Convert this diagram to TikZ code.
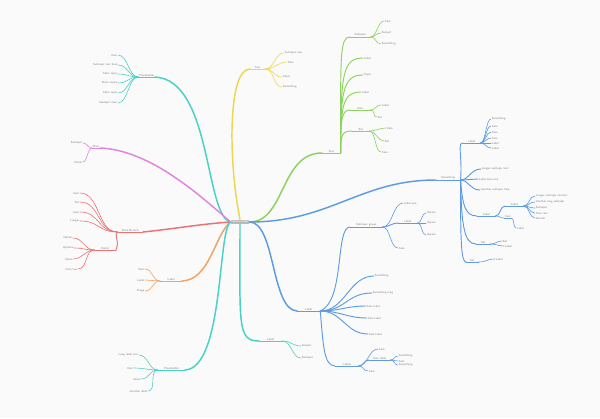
\documentclass[tikz,border=0pt]{standalone}
\usepackage{xcolor}
\definecolor{bg}{HTML}{FAFAFA}
\definecolor{tl}{HTML}{46D2C4}
\definecolor{pk}{HTML}{E283E0}
\definecolor{rd}{HTML}{EE7070}
\definecolor{og}{HTML}{F4A261}
\definecolor{yl}{HTML}{EDD650}
\definecolor{gr}{HTML}{8CD25E}
\definecolor{bl}{HTML}{5E9BE2}
\definecolor{tc}{HTML}{808080}
\newcommand\tf{\fontsize{2.2}{2.6}\selectfont\sffamily}
\tikzset{
 lab/.style={font=\tf, text=tc, inner xsep=0.4pt, inner ysep=0.35pt},
 L/.style={lab, anchor=south east},
 R/.style={lab, anchor=south west},
 mb/.style={line width=1.1pt, line cap=round},
 sb/.style={line width=0.7pt, line cap=round},
 lf/.style={line width=0.45pt, line cap=round},
}
\newcommand\Ln[5][]{\node[L,#1] (#2) at (#4) {#5}; \draw[#3] (#2.south west) -- (#2.south east);}
\newcommand\Rn[5][]{\node[R,#1] (#2) at (#4) {#5}; \draw[#3] (#2.south west) -- (#2.south east);}
\newcommand\Lf[3]{\node[lab,anchor=east] (#1) at (#2) {#3};}
\newcommand\Rf[3]{\node[lab,anchor=west] (#1) at (#2) {#3};}
\newcommand\cv[5]{\draw[#1] (#2) .. controls +(#4) and +(#5) .. (#3);}
\begin{document}
\begin{tikzpicture}[x=0.75pt,y=-0.75pt]
\useasboundingbox (0,0) rectangle (600,418);
\fill[bg] (0,0) rectangle (600,418);
\node[fill=gray!55, text=white, font=\tf, minimum width=13.5pt, minimum height=3.4pt, inner sep=0.3pt] (root) at (240,222) {Central Topic};
% teal top
\Ln{TA}{tl,sb}{155,77}{Placeholder}
\cv{tl,mb}{root.west}{TA.south east}{-26,-7}{57,3}
\foreach \nm/\y/\tx in {1/55/Item,2/65/Subtopic text here,3/74/Main topic,4/83/Main topics,5/93/Main topic,6/103/Subtopic item}{
 \Lf{TA\nm}{118,\y}{\tx}
 \cv{tl,lf}{TA.south west}{TA\nm.east}{-10,0}{10,0}}
% pink
\Ln{PA}{pk,sb}{100,148}{Main}
\cv{pk,mb}{root.west}{PA.south east}{-31,-27}{50,2}
\foreach \nm/\y/\tx in {1/143/Subtopic,2/162/Detail}{
 \Lf{PA\nm}{83,\y}{\tx}
 \cv{pk,lf}{PA.south west}{PA\nm.east}{-4,0}{4,0}}
% red
\Ln[minimum width=18.75pt]{RA}{rd,sb}{143,232}{Main Branch}
\cv{rd,mb}{root.west}{RA.south east}{-30,2}{30,-3}
\foreach \nm/\y/\tx in {1/193/Item,2/202/Set,3/212/Item,4/221/Longer}{
 \Lf{RA\nm}{80,\y}{\tx}
 \cv{rd,lf}{RA.south west}{RA\nm.east}{-20,0}{20,0}}
\Ln[minimum width=15.75pt]{RB}{rd,sb}{116,250}{Detail}
\cv{rd,sb}{RA.south west}{RB.south east}{-4,2}{4,-9}
\foreach \nm/\xx/\y/\tx in {1/73/238/Option,2/74/248/Options,3/73/259/Items,4/78/269/Item two}{
 \Lf{RB\nm}{\xx,\y}{\tx}
 \cv{rd,lf}{RB.south west}{RB\nm.east}{-10,0}{10,0}}
% orange
\Ln[minimum width=16pt]{OA}{og,sb}{182,281}{Label}
\cv{og,mb}{root.west}{OA.south east}{-16,13}{28,-1}
\foreach \nm/\y/\tx in {1/269/Item,2/280/Label,3/291/Stage}{
 \Lf{OA\nm}{145,\y}{\tx}
 \cv{og,lf}{OA.south west}{OA\nm.east}{-8,0}{8,0}}
% teal bottom
\Ln[minimum width=20pt]{TB}{tl,sb}{185,370}{Placeholder}
\cv{tl,mb}{root.west}{TB.south east}{-13,8}{39,-2}
\foreach \nm/\xx/\y/\tx in {1/139/355/Long label text,2/134/368/Item,3/141/379/Items,4/148/391/Another label}{
 \Lf{TB\nm}{\xx,\y}{\tx}
 \cv{tl,lf}{TB.south west}{TB\nm.east}{-9,0}{9,0}}
% yellow
\Rn[minimum width=11pt]{YA}{yl,sb}{250,69}{Text}
\cv{yl,mb}{root.north}{YA.south west}{-12,-60}{-22,0}
\foreach \nm/\xx/\y/\tx in {1/284/53/Subtopic one,2/287/62/Item,3/282/77/Topic,4/282/87/Something}{
 \Rf{YA\nm}{\xx,\y}{\tx}
 \cv{yl,lf}{YA.south east}{YA\nm.west}{9,0}{-9,0}}
% green
\Rn[minimum width=13.5pt]{GA}{gr,sb}{322,153}{Text}
\cv{gr,mb}{root.east}{GA.south west}{36,0}{-42,0}
\Rn[minimum width=15pt]{GB}{gr,sb}{350,37}{Subtopic}
\cv{gr,sb}{GA.south east}{GB.south west}{0,-100}{-10,0}
\foreach \nm/\xx/\y/\tx in {1/384/21/Item,2/381/33/Subject,3/381/44/Something}{
 \Rf{GB\nm}{\xx,\y}{\tx}
 \cv{gr,lf}{GB.south east}{GB\nm.west}{6,0}{-6,0}}
\Rf{GC}{363,58}{Label}
\cv{gr,sb}{GA.south east}{GC.west}{0,-80}{-20,0}
\Rf{GD}{363,75}{Topic}
\cv{gr,sb}{GA.south east}{GD.west}{0,-62}{-20,0}
\Rf{GE}{361,92}{Label}
\cv{gr,sb}{GA.south east}{GE.west}{0,-48}{-18,0}
\Rn[minimum width=15pt]{GF}{gr,sb}{350,110}{Item}
\cv{gr,sb}{GA.south east}{GF.south west}{0,-35}{-8,0}
\foreach \nm/\xx/\y/\tx in {1/381/105/Label,2/377/117/Set}{
 \Rf{GF\nm}{\xx,\y}{\tx}
 \cv{gr,lf}{GF.south east}{GF\nm.west}{5,0}{-5,0}}
\Rn[minimum width=12.75pt]{GG}{gr,sb}{352,131}{Set}
\cv{gr,sb}{GA.south east}{GG.south west}{0,-18}{-10,0}
\foreach \nm/\xx/\y/\tx in {1/386/128/Item,2/384/141/Set,3/381/152/Item}{
 \Rf{GG\nm}{\xx,\y}{\tx}
 \cv{gr,lf}{GG.south east}{GG\nm.west}{6,0}{-6,0}}
% blue right
\Rn[minimum width=18pt]{BA}{bl,sb}{436,180}{Something}
\cv{bl,mb}{root.east}{BA.south west}{81,0}{-76,0}
\Rn[minimum width=12.75pt]{BB}{bl,sb}{463,143}{Label}
\cv{bl,sb}{BA.south east}{BB.south west}{2,-25}{-6,0}
\foreach \nm/\y/\tx in {1/119/Something,2/126/Item,3/132/Item,4/138/Item,5/143/Label,6/148/Label}{
 \Rf{BB\nm}{491,\y}{\tx}
 \cv{bl,lf}{BB.south east}{BB\nm.west}{5,0}{-5,0}}
\Rf{BC}{481,169}{Longer subtopic text}
\cv{bl,sb}{BA.south east}{BC.west}{8,0}{-10,0}
\Rf{BD}{478,179}{Label item one}
\cv{bl,sb}{BA.south east}{BD.west}{8,0}{-8,0}
\Rf{BE}{480,190}{Another subtopic here}
\cv{bl,sb}{BA.south east}{BE.west}{8,0}{-10,0}
\Rn[minimum width=13.5pt]{BF}{bl,sb}{477,216}{Label}
\cv{bl,sb}{BA.south east}{BF.south west}{2,25}{-12,0}
\Rn[minimum width=13.5pt]{BG}{bl,sb}{505,206}{Label}
\cv{bl,sb}{BF.south east}{BG.south west}{5,0}{-5,0}
\foreach \nm/\y/\tx in {1/196/Longer subtopic content,2/202/Another long subtopic,3/208/Subtopic,4/213/Item text,5/218/Details}{
 \Rf{BG\nm}{535,\y}{\tx}
 \cv{bl,lf}{BG.south east}{BG\nm.west}{6,0}{-6,0}}
\Rn{BH}{bl,lf}{504,218}{Item}
\cv{bl,lf}{BF.south east}{BH.south west}{4,0}{-4,0}
\Rf{BI}{516,228}{Label}
\cv{bl,lf}{BH.south east}{BI.west}{3,0}{-3,0}
\Rn[minimum width=10.5pt]{BJ}{bl,sb}{476,244}{Set}
\cv{bl,sb}{BA.south east}{BJ.south west}{1,45}{-12,0}
\foreach \nm/\xx/\y/\tx in {1/502/241/Set,2/504/246/Label}{
 \Rf{BJ\nm}{\xx,\y}{\tx}
 \cv{bl,lf}{BJ.south east}{BJ\nm.west}{5,0}{-5,0}}
\Rn[minimum width=9pt]{BK}{bl,sb}{466,262}{Set}
\cv{bl,sb}{BA.south east}{BK.south west}{0,60}{-5,0}
\Rf{BK1}{495,259}{Label}
\cv{bl,lf}{BK.south east}{BK1.west}{8,0}{-8,0}
% blue down
\Rn[minimum width=17pt]{BL}{bl,sb}{297,311}{Label}
\cv{bl,mb}{root.east}{BL.south west}{26,0}{-26,-1}
\Rn[minimum width=24pt]{BM}{bl,sb}{350,227}{Subtopic group}
\cv{bl,sb}{BL.south east}{BM.south west}{25,-10}{-15,0}
\Rf{BN}{403,203}{Label one}
\cv{bl,lf}{BM.south east}{BN.west}{10,0}{-10,0}
\Rn[minimum width=14.25pt]{BO}{bl,sb}{398,223}{Label}
\cv{bl,sb}{BM.south east}{BO.south west}{6,0}{-6,0}
\foreach \nm/\y in {1/213,2/223,3/235}{
 \Rf{BO\nm}{426,\y}{Option}
 \cv{bl,lf}{BO.south east}{BO\nm.west}{5,0}{-5,0}}
\Rf{BP}{398,248}{Item}
\cv{bl,lf}{BM.south east}{BP.west}{8,0}{-8,0}
\foreach \nm/\xx/\y/\tx/\k in {Q/374/276/Something/25,R/372/293/Something long/25,S/366/306/Item label/20,T/367/318/Item label/20,U/368/334/Item label/22}{
 \Rf{B\nm}{\xx,\y}{\tx}
 \cv{bl,sb}{BL.south east}{B\nm.west}{\k,0}{-\k,0}}
\Rn[minimum width=17.25pt]{BV}{bl,sb}{335,366}{Labels}
\cv{bl,sb}{BL.south east}{BV.south west}{3,30}{-12,0}
\Rf{BW}{378,349}{Item}
\cv{bl,lf}{BV.south east}{BW.west}{9,0}{-9,0}
\Rn[minimum width=15.75pt]{BX}{bl,sb}{369,360}{Item label}
\cv{bl,sb}{BV.south east}{BX.south west}{5,0}{-5,0}
\foreach \nm/\y/\tx in {1/356/Something,2/361/Item,3/365/Something}{
 \Rf{BX\nm}{398,\y}{\tx}
 \cv{bl,lf}{BX.south east}{BX\nm.west}{4,0}{-4,0}}
\Rf{BY}{368,371}{Item}
\cv{bl,lf}{BV.south east}{BY.west}{5,0}{-5,0}
% teal small
\Rn[minimum width=17.25pt]{TC}{tl,sb}{259,341}{Label}
\cv{tl,mb}{root.south}{TC.south west}{0,100}{-22,0}
\foreach \nm/\y/\tx in {1/346/Subject,2/358/Subtopic}{
 \Rf{TC\nm}{301,\y}{\tx}
 \cv{tl,lf}{TC.south east}{TC\nm.west}{9,0}{-9,0}}
\end{tikzpicture}
\end{document}
